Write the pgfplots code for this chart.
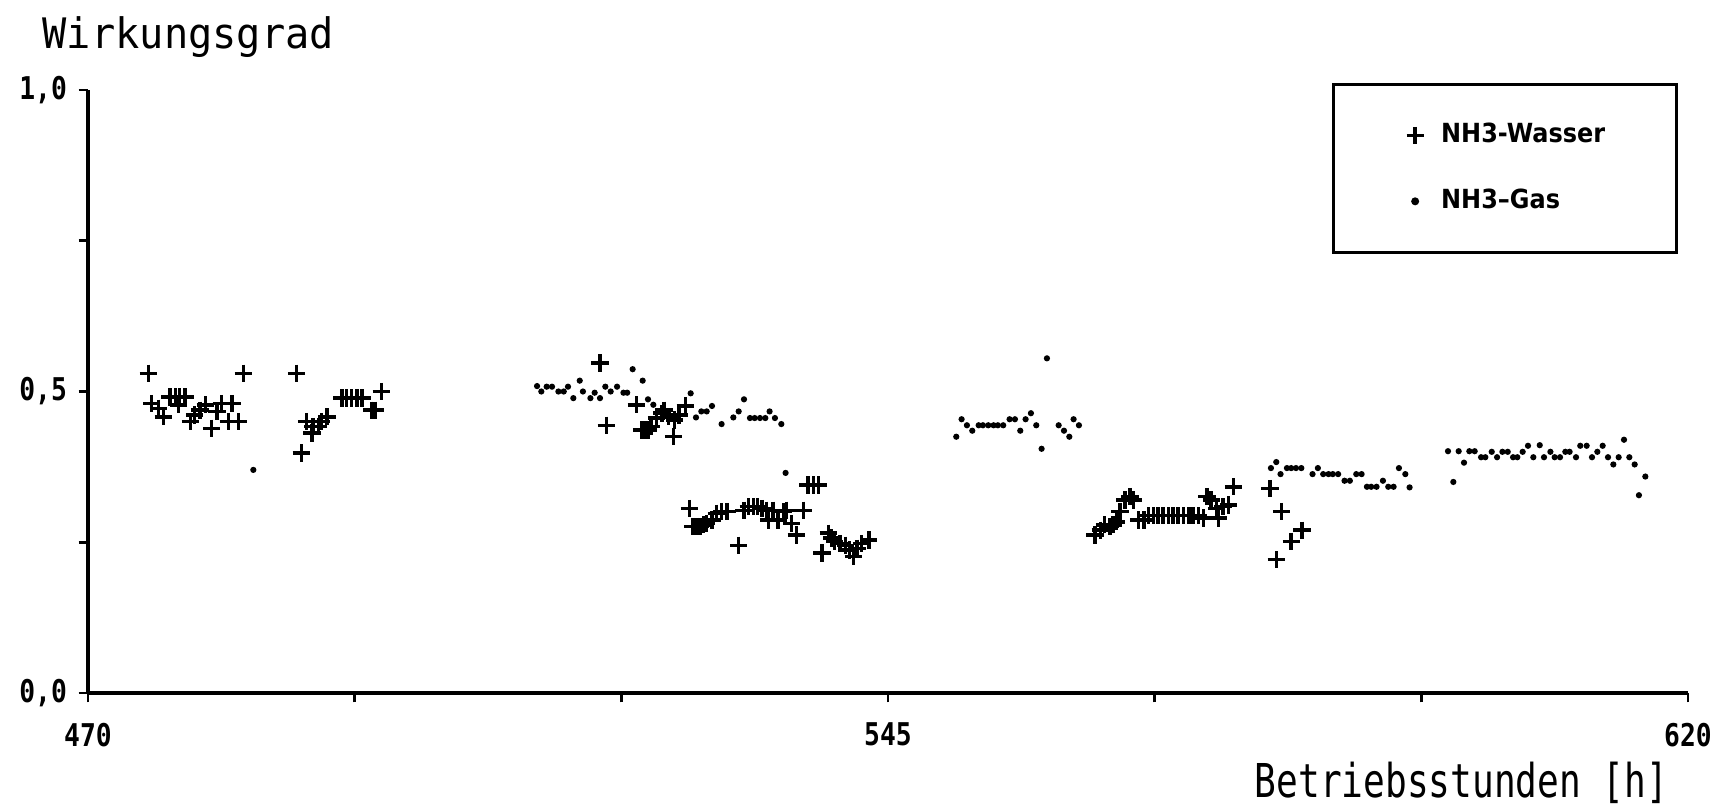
\documentclass[border=0pt]{standalone}
\usepackage{fontspec}
\setmainfont{DejaVu Sans}
\setmonofont{DejaVu Sans Mono}
\usepackage{graphicx}
\usepackage{pgfplots}
\usepackage{pgfplotstable}
\pgfplotsset{compat=1.18}

% Wirkungsgrad ueber Betriebsstunden, Absorption NH3-Wasser
\pgfplotstableread{
h v
475.65 0.530
475.97 0.480
476.6 0.472
477.06 0.458
477.7 0.491
478.2 0.491
478.5 0.478
478.6 0.491
479.1 0.491
479.6 0.450
480.0 0.461
480.5 0.469
481.0 0.478
481.6 0.439
482.1 0.467
482.5 0.480
483.15 0.450
483.5 0.480
484.1 0.450
484.56 0.530
489.56 0.530
490.0 0.398
490.5 0.450
491.0 0.431
491.1 0.442
491.6 0.442
491.9 0.450
492.4 0.458
493.8 0.489
494.25 0.489
494.7 0.489
495.2 0.489
495.7 0.489
496.6 0.469
496.9 0.469
497.5 0.500
518.0 0.547
518.6 0.444
521.4 0.478
521.9 0.436
522.2 0.436
522.5 0.436
522.8 0.442
523.3 0.456
523.8 0.464
524.0 0.469
524.4 0.458
524.9 0.425
525.0 0.453
525.4 0.461
526.0 0.476
526.4 0.306
526.7 0.276
527.1 0.276
527.4 0.276
527.7 0.279
528.0 0.281
528.5 0.287
528.9 0.298
529.4 0.301
529.9 0.301
531.0 0.245
531.5 0.303
531.9 0.309
532.4 0.309
532.75 0.309
533.2 0.306
533.6 0.303
533.8 0.287
534.2 0.303
534.7 0.287
535.2 0.301
535.5 0.303
535.96 0.281
536.4 0.262
537.1 0.303
537.5 0.345
538.0 0.345
538.5 0.345
538.8 0.232
539.4 0.265
539.7 0.257
540.0 0.251
540.5 0.248
541.0 0.245
541.4 0.237
541.75 0.226
542.1 0.240
542.5 0.248
543.2 0.254
564.4 0.262
564.9 0.270
565.3 0.279
565.8 0.276
566.1 0.279
566.4 0.284
566.75 0.301
567.2 0.320
567.7 0.326
568.0 0.320
568.5 0.287
569.0 0.287
569.4 0.294
569.9 0.294
570.3 0.294
570.8 0.294
571.3 0.294
571.7 0.294
572.2 0.294
572.7 0.294
573.2 0.294
573.6 0.294
574.1 0.294
574.6 0.290
574.9 0.326
575.3 0.320
575.8 0.306
576.0 0.290
576.4 0.309
576.9 0.312
577.4 0.342
580.8 0.339
581.4 0.221
581.9 0.301
582.8 0.251
583.8 0.270
}\wasser

% Absorption NH3-Gas
\pgfplotstableread{
h v
485.5 0.370
512.1 0.509
512.5 0.500
513.0 0.508
513.5 0.508
514.1 0.500
514.6 0.500
515.0 0.508
515.5 0.489
516.1 0.518
516.4 0.500
517.1 0.489
517.5 0.498
518.0 0.489
518.5 0.508
519.0 0.500
519.6 0.508
520.2 0.498
520.55 0.498
521.06 0.537
522.0 0.518
522.5 0.487
523.0 0.478
526.5 0.497
527.0 0.457
527.5 0.467
528.0 0.467
528.5 0.476
529.4 0.446
530.5 0.457
531.0 0.467
531.5 0.487
532.06 0.456
532.5 0.456
533.0 0.456
533.5 0.456
533.9 0.467
534.4 0.456
535.0 0.446
535.4 0.365
551.4 0.425
551.9 0.454
552.4 0.444
552.9 0.435
553.5 0.444
553.9 0.444
554.4 0.444
554.9 0.444
555.3 0.444
555.8 0.444
556.4 0.454
556.9 0.454
557.4 0.435
557.9 0.454
558.4 0.464
558.9 0.444
559.4 0.405
559.9 0.555
561.0 0.444
561.5 0.435
562.0 0.425
562.4 0.454
562.9 0.444
580.9 0.373
581.4 0.383
581.8 0.363
582.4 0.373
582.8 0.373
583.25 0.373
583.75 0.373
584.8 0.363
585.3 0.373
585.8 0.363
586.3 0.363
586.7 0.363
587.2 0.363
587.8 0.352
588.3 0.352
588.9 0.363
589.4 0.363
589.9 0.342
590.3 0.342
590.8 0.342
591.4 0.352
591.9 0.342
592.4 0.342
592.9 0.373
593.5 0.363
593.9 0.341
597.5 0.401
598.0 0.350
598.5 0.401
599.0 0.382
599.5 0.401
600.0 0.401
600.6 0.391
601.0 0.391
601.6 0.400
602.1 0.391
602.6 0.400
603.1 0.400
603.6 0.391
604.0 0.391
604.5 0.400
605.0 0.410
605.5 0.391
606.1 0.411
606.5 0.391
607.1 0.400
607.5 0.391
608.0 0.391
608.5 0.400
608.9 0.400
609.5 0.391
609.9 0.410
610.5 0.410
611.0 0.391
611.5 0.400
612.0 0.410
612.5 0.391
613.0 0.379
613.5 0.391
614.0 0.420
614.5 0.391
615.0 0.379
615.4 0.328
616.0 0.359
}\gas

\newcommand\tk[1]{\scalebox{0.84}[1]{\fontsize{9.4pt}{10pt}\selectfont\ttfamily\bfseries #1}}
\newcommand\legtext[1]{\scalebox{0.91}[1]{\fontsize{7.9pt}{9pt}\selectfont\bfseries #1}}

\begin{document}
\begin{tikzpicture}
\useasboundingbox (0,0) rectangle (517.2pt,241.8pt);
\begin{axis}[
  at={(26.4pt,33.9pt)}, anchor=south west,
  scale only axis, width=480pt, height=180.9pt,
  xmin=470, xmax=620, ymin=0, ymax=1,
  axis lines=left,
  axis line style={-, line width=1pt},
  tick align=outside,
  major tick length=2.8pt, minor tick length=2.8pt,
  tick style={line width=0.8pt, black},
  xtick={470,545,620}, minor xtick={495,520,570,595},
  xticklabels={\tk{470},\tk{545},\tk{620}},
  xticklabel style={yshift=-2.6pt},
  ytick={0,0.5,1}, minor ytick={0.25,0.75},
  yticklabels={{\tk{0,0}},{\tk{0,5}},{\tk{1,0}}},
  legend style={
    at={(0.7775,1.0116)}, anchor=north west,
    draw=black, line width=0.9pt,
    inner xsep=19.4pt, inner ysep=9.6pt, row sep=8.4pt,
  },
  legend cell align=left,
  legend image code/.code={%
    \path[draw=none, fill=none] (-5.1pt,-1pt) rectangle (5.8pt,1pt);
    \draw[mark repeat=2,mark phase=2,#1,only marks]
      plot coordinates {(-5pt,0pt)(0pt,0pt)(5pt,0pt)};},
]
\addplot[only marks, mark=+, mark size=2.6pt, mark options={line width=1.05pt, black}]
  table[x=h, y=v] {\wasser};
\addlegendentry{\legtext{NH3-Wasser}}
\addplot[only marks, mark=*, mark size=0.72pt, mark options={black, fill=black}]
  table[x=h, y=v] {\gas};
\addlegendentry{\legtext{NH3--Gas}}
\end{axis}
\node[anchor=base west, inner sep=0pt] at (12.6pt,227.4pt)
  {\scalebox{0.96}[1]{\fontsize{12.6pt}{14pt}\selectfont\ttfamily Wirkungsgrad}};
\node[anchor=base east, inner sep=0pt] at (500.6pt,2.7pt)
  {\scalebox{0.774}[1]{\fontsize{14pt}{16pt}\selectfont\ttfamily Betriebsstunden [h]}};
\end{tikzpicture}
\end{document}
